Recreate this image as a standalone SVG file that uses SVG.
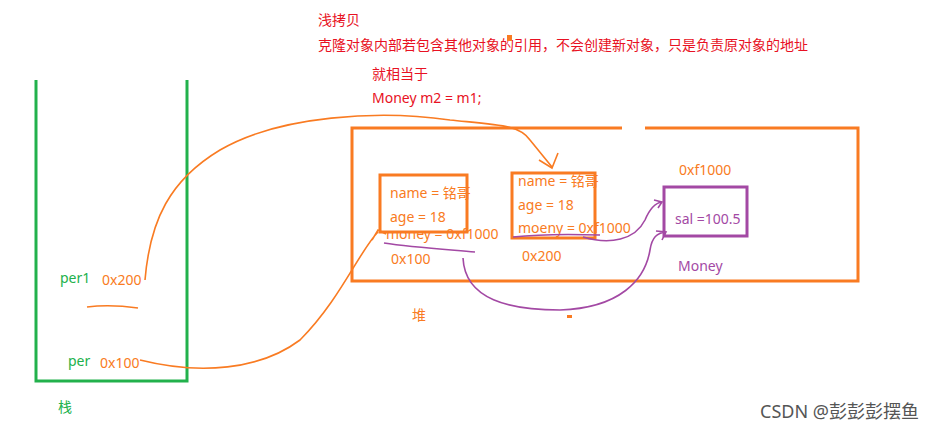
<svg xmlns="http://www.w3.org/2000/svg" width="946" height="431" viewBox="0 0 946 431">
<style>
text{font-family:"Noto Sans","Noto Sans CJK SC",sans-serif;font-size:14px}
.o{fill:#f97b22}.g{fill:#22b14c}.r{fill:#e81123}.p{fill:#a349a4}
.so{stroke:#f97b22;fill:none;stroke-width:3}
.lo{stroke:#f97b22;fill:none;stroke-width:1.6}
.lp{stroke:#a349a4;fill:none;stroke-width:1.6}
</style>
<rect width="946" height="431" fill="#fff"/>
<g id="title"><text class="r" x="318" y="25">浅拷贝</text>
<text class="r" x="318" y="50">克隆对象内部若包含其他对象的引用，不会创建新对象，只是负责原对象的地址</text>
<text class="r" x="372" y="79">就相当于</text>
<text class="r" x="372" y="103">Money m2 = m1;</text>
<rect x="507" y="35" width="5" height="6" fill="#f97b22"/></g>
<g id="stack"><path d="M36 80V381H187V80" stroke="#22b14c" stroke-width="3" fill="none"/>
<text class="g" x="60" y="283">per1</text><text class="o" x="102" y="285">0x200</text>
<text class="g" x="68" y="366">per</text><text class="o" x="100" y="368">0x100</text>
<text class="g" x="58" y="412">栈</text>
<path class="lo" d="M87 307Q110 304 138 308"/></g>
<g id="heap"><path class="so" d="M622 128H352V281H858V128H645M622 281"/>
<text class="o" x="412" y="320">堆</text><rect x="567" y="315" width="5" height="3" fill="#f97b22"/></g>
<g id="obj1"><rect class="so" x="380" y="175" width="87" height="57"/>
<text class="o" x="390" y="198">name = 铭哥</text><text class="o" x="390" y="222">age = 18</text>
<text class="o" x="386" y="239">money = 0xf1000</text><text class="o" x="391" y="264">0x100</text></g>
<g id="obj2"><rect class="so" x="512" y="173" width="83" height="65"/>
<text class="o" x="518" y="186">name = 铭哥</text><text class="o" x="518" y="210">age = 18</text>
<text class="o" x="518" y="233">moeny = 0xf1000</text><text class="o" x="522" y="261">0x200</text></g>
<g id="money"><rect x="664" y="187" width="83" height="49" stroke="#a349a4" stroke-width="3" fill="none"/>
<text class="o" x="679" y="175">0xf1000</text><text class="p" x="675" y="224">sal =100.5</text>
<text class="p" x="678" y="271">Money</text></g>
<g id="connectors">
<path class="lo" d="M145 280C150 220 170 180 220 150C280 115 380 110 450 120C500 125 520 125 530 140L552 167"/>
<path class="lo" d="M539 160L552 168L558 153"/>
<path class="lo" d="M140 360C200 375 260 370 300 340C340 300 360 250 378 232M372 240L378 230L386 234"/>
<path class="lp" d="M384 243C410 247 440 249 475 252"/>
<path class="lp" d="M463 258C465 300 510 310 560 310C620 308 645 280 650 250C652 237 657 233 666 232M656 231L666 232L662 240"/>
<path class="lp" d="M513 237C540 234 570 234 600 235"/>
<path class="lp" d="M583 237C610 245 635 240 645 220C650 208 655 203 662 202M654 200L662 202L658 208"/>
</g>
<text x="760" y="418" fill="#555" style="font-size:18px">CSDN @彭彭彭摆鱼</text>
</svg>
